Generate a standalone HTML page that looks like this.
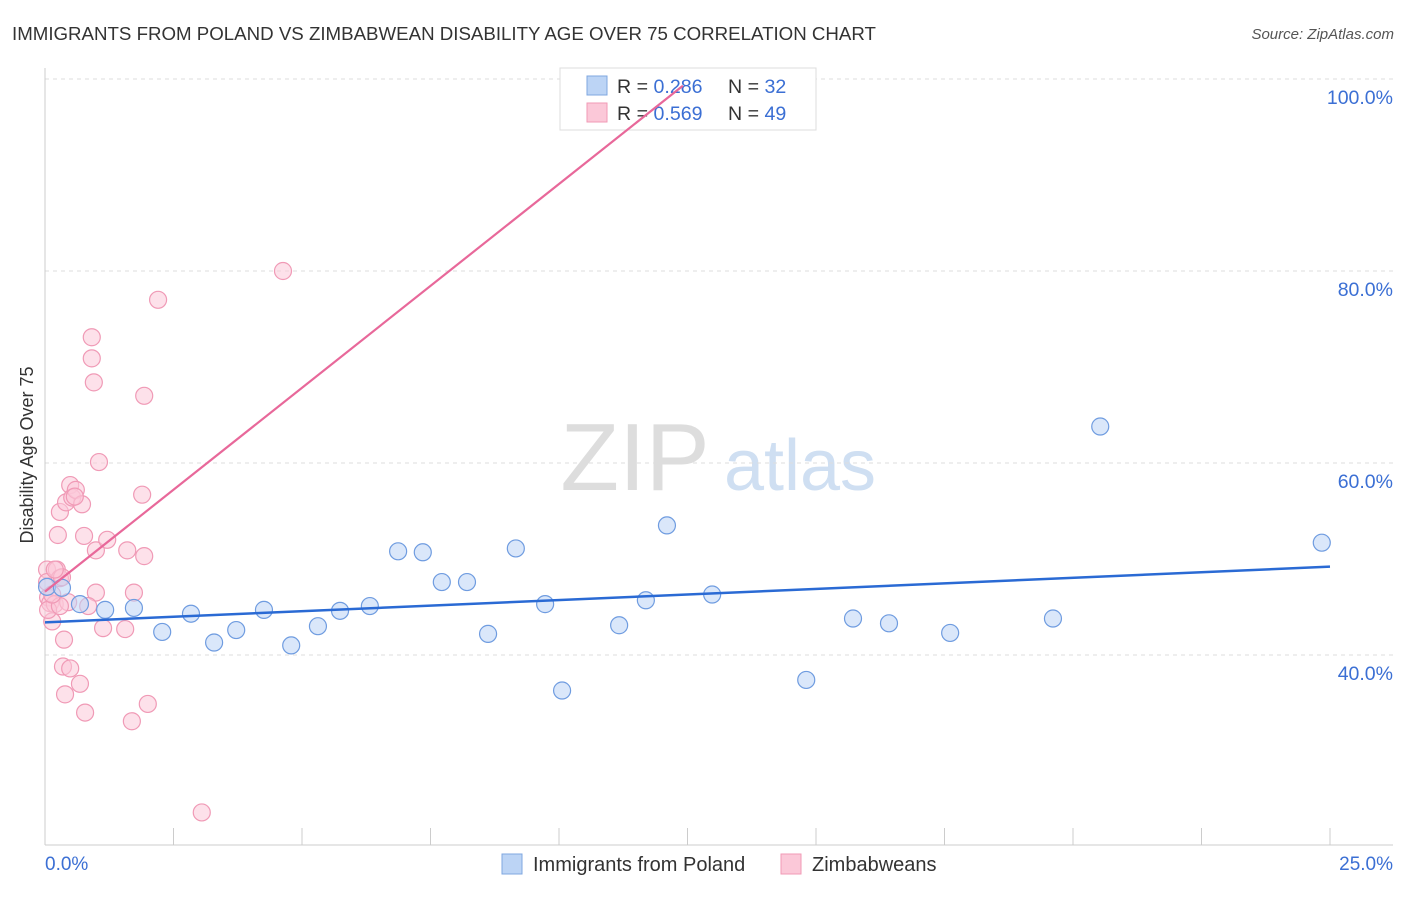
<!DOCTYPE html>
<html><head><meta charset="utf-8"><style>
body{margin:0;background:#fff;font-family:"Liberation Sans",sans-serif;}
svg text{font-family:"Liberation Sans",sans-serif;}
</style></head><body>
<svg id="chart" width="1406" height="892" xmlns="http://www.w3.org/2000/svg">
<text x="12" y="40" font-size="18.7" fill="#333">IMMIGRANTS FROM POLAND VS ZIMBABWEAN DISABILITY AGE OVER 75 CORRELATION CHART</text>
<text x="1394" y="39" font-size="15" fill="#555" text-anchor="end" font-style="italic">Source: ZipAtlas.com</text>
<g>
<text x="635" y="490" font-size="96" fill="#ddd" text-anchor="middle" font-family="Liberation Serif, serif">ZIP</text>
<text x="800" y="490" font-size="72" fill="#cfdff2" text-anchor="middle">atlas</text>
</g>
<g id="grid"></g>
<g id="axes"></g>
<g id="points"></g>
<g>
<rect x="560" y="68" width="256" height="62" fill="#fff" stroke="#ddd"/>
<rect x="587" y="76" width="20" height="19" fill="#bcd4f5" stroke="#7fa7e0"/>
<rect x="587" y="103" width="20" height="19" fill="#fbc8d8" stroke="#f09ab6"/>
<text x="617" y="93" font-size="19.6" fill="#333">R = <tspan fill="#3b6fd4">0.286</tspan><tspan x="728">N = </tspan><tspan fill="#3b6fd4">32</tspan></text>
<text x="617" y="120" font-size="19.6" fill="#333">R = <tspan fill="#3b6fd4">0.569</tspan><tspan x="728">N = </tspan><tspan fill="#3b6fd4">49</tspan></text>
</g>
<g id="lines"></g>
<text x="33" y="455" font-size="18" fill="#333" text-anchor="middle" transform="rotate(-90 33 455)">Disability Age Over 75</text>
<text x="45" y="870" font-size="19" fill="#3b6fd4">0.0%</text>
<text x="1393" y="870" font-size="19" fill="#3b6fd4" text-anchor="end">25.0%</text>
<g>
<rect x="502" y="854" width="20" height="20" fill="#bcd4f5" stroke="#7fa7e0"/>
<text x="533" y="871" font-size="20" fill="#333">Immigrants from Poland</text>
<rect x="781" y="854" width="20" height="20" fill="#fbc8d8" stroke="#f09ab6"/>
<text x="812" y="871" font-size="20" fill="#333">Zimbabweans</text>
</g>
</svg>
<script>
const yTicks=[40,60,80,100];
const yTickLabels=["40.0%","60.0%","80.0%","100.0%"];
const xTicks=[0,2.5,5,7.5,10,12.5,15,17.5,20,22.5,25];
const polandX=[0.04,0.33,0.68,1.17,1.73,2.28,2.84,3.29,3.72,4.26,4.79,5.31,5.74,6.32,6.87,7.35,7.72,8.21,8.62,9.16,9.73,10.06,11.17,11.69,12.10,12.98,14.81,15.72,16.42,17.61,19.61,20.53,24.84];
const polandY=[47.1,47.0,45.3,44.7,44.9,42.4,44.3,41.3,42.6,44.7,41.0,43.0,44.6,45.1,50.8,50.7,47.6,47.6,42.2,51.1,45.3,36.3,43.1,45.7,53.5,46.3,37.4,43.8,43.3,42.3,43.8,63.8,51.7];
const zimX=[0.04,0.04,0.06,0.10,0.14,0.19,0.23,0.29,0.25,0.29,0.33,0.37,0.35,0.39,0.41,0.45,0.49,0.49,0.53,0.60,0.68,0.72,0.76,0.78,0.91,0.91,0.95,0.99,0.99,1.05,1.13,1.21,1.56,1.60,1.69,1.73,1.89,1.93,1.93,2.00,2.20,3.05,4.63,0.06,0.84,0.29,0.14,0.58,0.19];
const zimY=[48.9,47.6,46.0,45.4,43.5,45.3,48.9,48.0,52.5,54.9,48.1,41.6,38.8,35.9,55.9,45.5,57.7,38.6,56.4,57.2,37.0,55.7,52.4,34.0,73.1,70.9,68.4,50.9,46.5,60.1,42.8,52.0,42.7,50.9,33.1,46.5,56.7,67.0,50.3,34.9,77.0,23.6,80.0,44.7,45.1,45.1,46.3,56.5,48.9];
const polandTrend=[[0,43.4],[25,49.2]];
const zimTrend=[[0,46.6],[12.41,99.3]];
const X=v=>45+v*51.4, Y=v=>1039-v*9.6;
const NS="http://www.w3.org/2000/svg";
function mk(t,a,p){const e=document.createElementNS(NS,t);for(const k in a)e.setAttribute(k,a[k]);document.getElementById(p).appendChild(e);return e;}
yTicks.forEach((t,i)=>{
 const g=mk('line',{x1:45,x2:1393,y1:Y(t),y2:Y(t),stroke:'#ddd','stroke-dasharray':'4,4'},'grid');
 
 
 const l=mk('text',{x:1393,y:Y(t)+25,'font-size':19.5,fill:'#3b6fd4','text-anchor':'end'},'grid');
 l.textContent=yTickLabels[i];
 
 
});
const ax=mk('line',{x1:45,x2:45,y1:68,y2:845,stroke:'#ccc'},'axes');


const bx=mk('line',{x1:45,x2:1393,y1:845,y2:845,stroke:'#ccc'},'axes');


xTicks.forEach(t=>{
 const k=mk('line',{x1:X(t),x2:X(t),y1:828,y2:845,stroke:'#ccc'},'axes');
 
 
});
function pts(xs,ys,fill,stroke,name){
 xs.forEach((x,i)=>{
  const c=mk('circle',{cx:X(x),cy:Y(ys[i]),r:8.5,fill:fill,stroke:stroke,'stroke-width':1.2,'fill-opacity':0.55},'points');
  
  
 });
}
pts(zimX,zimY,'#fbc8d8','#f09ab6','zimbabwean-point');
pts(polandX,polandY,'#bcd4f5','#6f9ce0','poland-point');
const l1=mk('line',{x1:X(polandTrend[0][0]),y1:Y(polandTrend[0][1]),x2:X(polandTrend[1][0]),y2:Y(polandTrend[1][1]),stroke:'#2a6ad4','stroke-width':2.5},'lines');


const l2=mk('line',{x1:X(zimTrend[0][0]),y1:Y(zimTrend[0][1]),x2:X(zimTrend[1][0]),y2:Y(zimTrend[1][1]),stroke:'#e8689a','stroke-width':2.2},'lines');


</script>
</body></html>
